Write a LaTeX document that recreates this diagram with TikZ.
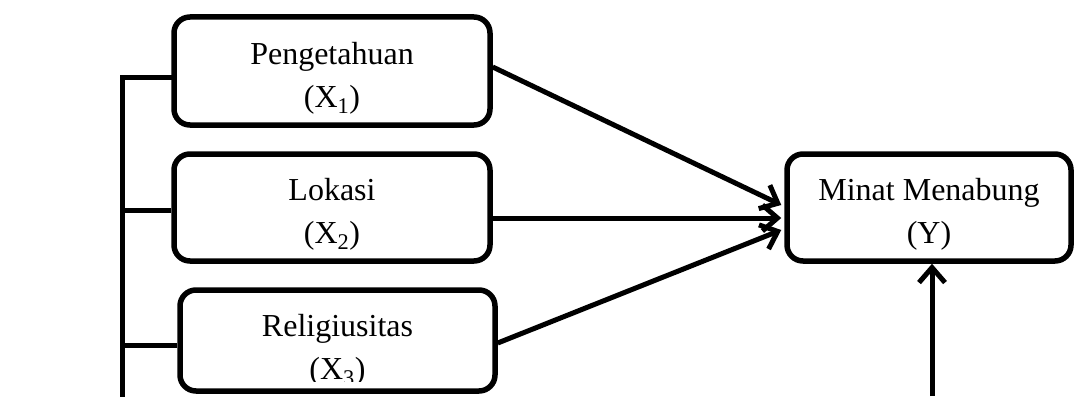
\documentclass[tikz,border=0pt]{standalone}
\usepackage{fontspec}
\setmainfont{Liberation Serif}
\usetikzlibrary{arrows.meta,calc}
\newcommand{\topstrutx}{\rule{0pt}{36pt}}
\begin{document}
\begin{tikzpicture}[x=1pt,y=-1pt,
  box/.style={draw, line width=5.5pt, rounded corners=16pt, align=center,
    font=\fontsize{32}{43}\selectfont, inner sep=0pt},
  boxtext/.style={align=center, font=\fontsize{32}{43}\selectfont, inner sep=0pt},
  link/.style={line width=5pt},
  arr/.style={line width=5pt, -{Straight Barb[length=15pt,width=26pt,line width=5pt]}}]
\useasboundingbox (0,0) rectangle (1075,396);
\node[box, minimum width=316pt, minimum height=108pt] (p1) at (332,71) {\topstrutx Pengetahuan\\(X\textsubscript{1})};
\node[box, minimum width=316pt, minimum height=107pt] (p2) at (332,207.5) {\topstrutx Lokasi\\(X\textsubscript{2})};
\node[box, minimum width=315pt, minimum height=101pt] (p3) at (337.5,340.5) {};
\begin{scope}
  \clip (150,280) rectangle (520,381.5);
  \node[boxtext] (p3t) at (337.5,350.5) {Religiusitas\\(X\textsubscript{3})};
\end{scope}
\node[box, minimum width=284pt, minimum height=107pt] (y) at (929,207.5) {\topstrutx Minat Menabung\\(Y)};
% bracket on the left
\coordinate (top) at (122,77);
\coordinate (bot) at (122,396);
\draw[link, line cap=rect] (p1.west |- top) -- (top) -- (bot);
\draw[link] (p2.west |- 0,210) -- (122,210);
\draw[link] (p3.west |- 0,345) -- (122,345);
% arrows to Y
\draw[arr] ($(p1.east)+(0,-4)$) -- ($(y.west)+(-3,-2.5)$);
\draw[arr] ($(p2.east)+(0,10.5)$) -- ($(y.west)+(-3,10.5)$);
\draw[arr] ($(p3.east)+(0,2.5)$) -- ($(y.west)+(-3,22.5)$);
\coordinate (ybot) at (932,396);
\draw[arr] (ybot) -- (ybot |- y.south);
\end{tikzpicture}
\end{document}
